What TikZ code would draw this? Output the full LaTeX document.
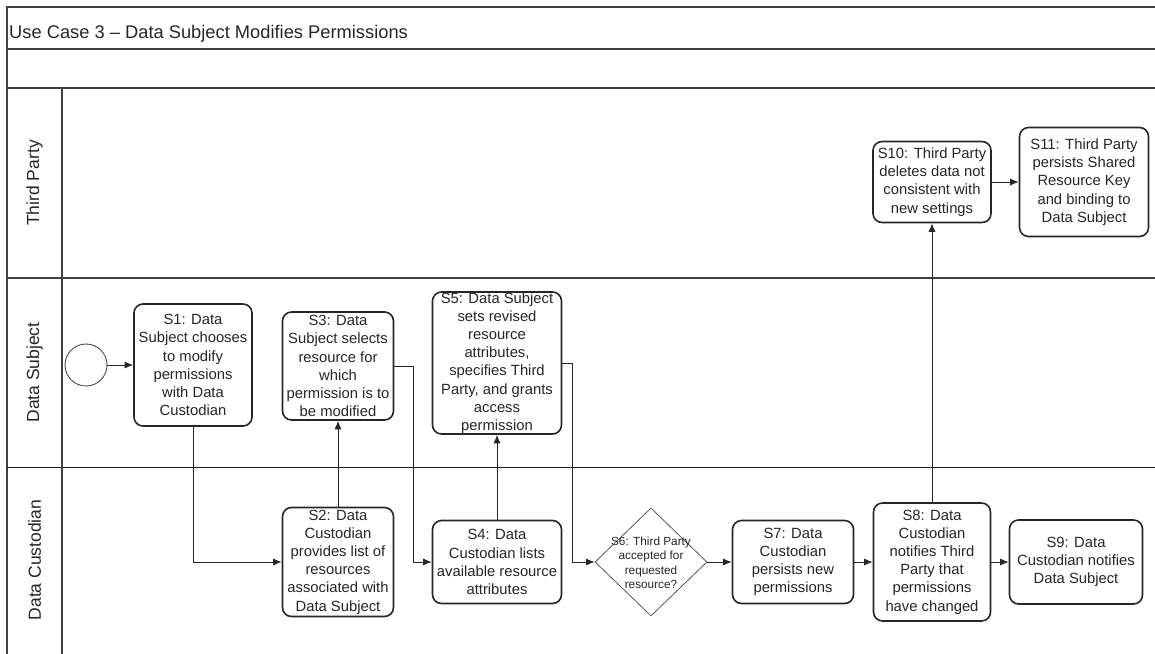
\documentclass[tikz,border=0pt]{standalone}
\usepackage{fontspec}
\setmainfont{Liberation Sans}
\usetikzlibrary{arrows.meta,shapes.geometric}
\begin{document}
\begin{tikzpicture}[x=1pt,y=-1pt,
  frame/.style={draw=black!75,line width=1.3pt},
  task/.style={draw=black!85,line width=1.6pt,rounded corners=9pt,fill=white,align=center,
    font=\fontsize{14.8}{18.2}\selectfont,inner sep=0pt,text=black!85},
  gate/.style={diamond,draw=black!65,line width=0.8pt,minimum width=112pt,minimum height=108pt,inner sep=0pt},
  gatetext/.style={align=center,font=\fontsize{11.8}{14.5}\selectfont,inner sep=0pt,text=black!85},
  flow/.style={draw=black!85,line width=0.9pt,-{Latex[length=8.5pt,width=7pt]}},
  lanelabel/.style={rotate=90,font=\fontsize{17.5}{20}\selectfont,text=black!85},
  startev/.style={circle,draw=black!70,line width=0.9pt,minimum size=42pt,inner sep=0pt}
]
\useasboundingbox (0,0) rectangle (1155,653);
\fill[white] (0,0) rectangle (1155,653);
% frame and lanes
\draw[frame] (1156,7) -- (7,7) -- (7,654);
\draw[frame] (7,49) -- (1156,49);
\draw[frame] (7,88) -- (1156,88);
\draw[frame] (7,278) -- (1156,278);
\draw[draw=black!90,line width=1pt] (7,467) -- (1156,467);
\draw[frame] (62,88) -- (62,654);
\node[anchor=base west,font=\fontsize{18.3}{22}\selectfont,inner sep=0pt,text=black!85] (title) at (9,38) {Use Case 3 -- Data Subject Modifies Permissions};
\node[lanelabel] (l1) at (34.5,183) {Third Party};
\node[lanelabel] (l2) at (34.5,372.5) {Data Subject};
\node[lanelabel] (l3) at (34.5,560) {Data Custodian};
% nodes
\node[startev] (start) at (86,365) {};
\node[task,minimum width=118pt,minimum height=122pt] (s1) at (193,365) {S1: Data\\Subject chooses\\to modify\\permissions\\with Data\\Custodian};
\node[task,minimum width=111pt,minimum height=108pt] (s3) at (338,366) {S3: Data\\Subject selects\\resource for\\which\\permission is to\\be modified};
\node[task,minimum width=111pt,minimum height=109pt] (s2) at (338,562) {S2: Data\\Custodian\\provides list of\\resources\\associated with\\Data Subject};
\node[task,minimum width=129pt,minimum height=83pt] (s4) at (497,562) {S4: Data\\Custodian lists\\available resource\\attributes};
\node[task,minimum width=129pt,minimum height=142pt] (s5) at (497,363) {S5: Data Subject\\sets revised\\resource\\attributes,\\specifies Third\\Party, and grants\\access\\permission};
\node[gate] (s6) at (651,562) {};
\node[gatetext] (s6t) at (651,563) {S6: Third Party\\accepted for\\requested\\resource?};
\node[task,minimum width=121pt,minimum height=83pt] (s7) at (793,562) {S7: Data\\Custodian\\persists new\\permissions};
\node[task,minimum width=117pt,minimum height=118pt] (s8) at (932,562) {S8: Data\\Custodian\\notifies Third\\Party that\\permissions\\have changed};
\node[task,minimum width=133pt,minimum height=84pt] (s9) at (1076,562) {S9: Data\\Custodian notifies\\Data Subject};
\node[task,minimum width=118pt,minimum height=81pt] (s10) at (932,182) {S10: Third Party\\deletes data not\\consistent with\\new settings};
\node[task,minimum width=129pt,minimum height=109pt] (s11) at (1084,182) {S11: Third Party\\persists Shared\\Resource Key\\and binding to\\Data Subject};
% connectors
\draw[flow] (start) -- (s1);
\draw[flow] (s1.south) |- (s2.west);
\draw[flow] (s2.north) -- (s3.south);
\draw[flow] (s3.east) -- ++(19,0) |- (s4.west);
\draw[flow] (s4.north) -- (s5.south);
\draw[flow] (s5.east) -- ++(10,0) |- (s6.west);
\draw[flow] (s6.east) -- (s7.west);
\draw[flow] (s7.east) -- (s8.west);
\draw[flow] (s8.east) -- (s9.west);
\draw[flow] (s8.north) -- (s10.south);
\draw[flow] (s10.east) -- (s11.west);
\end{tikzpicture}
\end{document}
